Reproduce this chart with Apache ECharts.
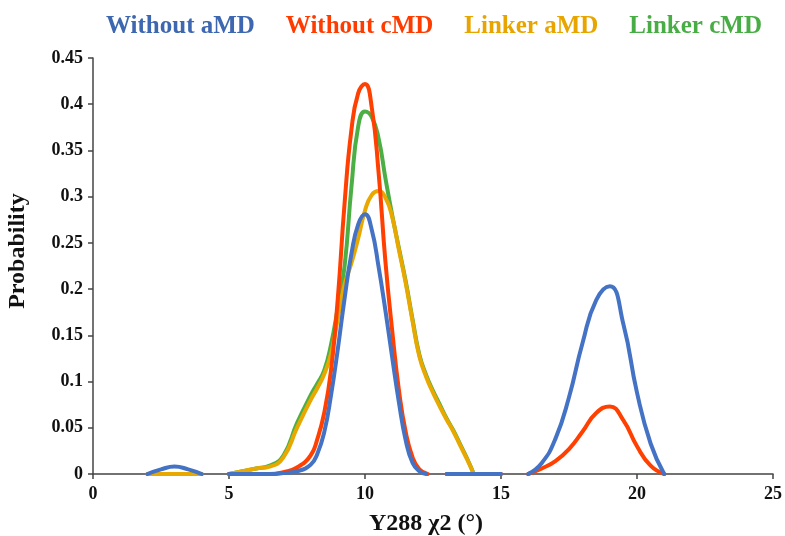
<!DOCTYPE html>
<html>
<head>
<meta charset="utf-8">
<script src="https://cdn.jsdelivr.net/npm/echarts@6/dist/echarts.min.js"></script>
<style>
  html, body { margin: 0; padding: 0; background: #ffffff; }
  #chart { width: 785px; height: 536px; }
</style>
</head>
<body>
<div id="chart"></div>
<script>
// Probability distributions of the Y288 chi2 dihedral ([angle, probability]); null breaks a line.
const withoutAMD = [
  [2, 0], [2.5, 0.005], [3, 0.008], [3.5, 0.005], [4, 0], [4.5, null],
  [5, 0], [5.5, 0], [6, 0], [6.5, 0], [7, 0.001], [7.5, 0.003], [8, 0.01], [8.25, 0.022],
  [8.5, 0.045], [8.75, 0.085], [9, 0.135], [9.25, 0.19], [9.5, 0.238], [9.75, 0.27],
  [10, 0.281], [10.25, 0.264], [10.5, 0.224], [10.75, 0.177], [11, 0.126], [11.25, 0.077],
  [11.5, 0.036], [11.75, 0.012], [12, 0.003], [12.25, 0], [12.6, null],
  [13, 0], [14, 0], [15, 0], [15.5, null],
  [16, 0], [16.5, 0.012], [17, 0.038], [17.5, 0.083], [18, 0.142], [18.5, 0.188],
  [19, 0.203], [19.5, 0.162], [20, 0.088], [20.5, 0.033], [21, 0]
];
const withoutCMD = [
  [5, 0], [5.5, 0], [6, 0], [6.5, 0], [7, 0.002], [7.5, 0.007], [8, 0.02], [8.25, 0.038],
  [8.5, 0.066], [8.75, 0.112], [9, 0.19], [9.25, 0.293], [9.5, 0.372], [9.75, 0.412],
  [10, 0.422], [10.25, 0.396], [10.5, 0.326], [10.75, 0.23], [11, 0.155], [11.25, 0.09],
  [11.5, 0.045], [11.75, 0.018], [12, 0.005], [12.3, 0], [12.6, null],
  [13, 0], [14, 0], [15, 0], [15.5, null],
  [16, 0], [16.5, 0.006], [17, 0.014], [17.5, 0.027], [18, 0.046], [18.5, 0.066],
  [19, 0.073], [19.5, 0.058], [20, 0.03], [20.5, 0.009], [21, 0]
];
const linkerAMD = [
  [2, 0], [2.5, 0], [3, 0], [3.5, 0], [4, 0], [4.5, null],
  [5, 0], [5.5, 0.003], [6, 0.006], [6.5, 0.008], [7, 0.018], [7.5, 0.05], [8, 0.08],
  [8.25, 0.093], [8.5, 0.108], [8.75, 0.13], [9, 0.168], [9.25, 0.205], [9.5, 0.228],
  [9.75, 0.255], [10, 0.285], [10.25, 0.302], [10.5, 0.306], [10.75, 0.299], [11, 0.278],
  [11.25, 0.242], [11.5, 0.206], [11.75, 0.165], [12, 0.127], [12.25, 0.105], [12.5, 0.088],
  [12.75, 0.073], [13, 0.059], [13.25, 0.046], [13.5, 0.031], [13.75, 0.016], [14, 0]
];
const linkerCMD = [
  [2.75, 0], [3.25, 0], [4, null],
  [5, 0], [5.5, 0.003], [6, 0.006], [6.5, 0.009], [7, 0.02], [7.5, 0.055], [8, 0.085],
  [8.25, 0.098], [8.5, 0.112], [8.75, 0.14], [9, 0.18], [9.25, 0.225], [9.5, 0.31],
  [9.75, 0.376], [10, 0.392], [10.25, 0.386], [10.5, 0.363], [10.75, 0.32], [11, 0.28],
  [11.25, 0.244], [11.5, 0.208], [11.75, 0.167], [12, 0.129], [12.25, 0.107], [12.5, 0.09],
  [12.75, 0.075], [13, 0.06], [13.25, 0.047], [13.5, 0.032], [13.75, 0.017], [14, 0]
];

const seriesNames = ['Without aMD', 'Without cMD', 'Linker aMD', 'Linker cMD'];
const seriesColors = ['#4472C4', '#FF4000', '#E8A800', '#4CAF45'];
const legendColors = ['#3D67B0', '#FF3C00', '#E8A500', '#48AD45'];
const seriesData = [withoutAMD, withoutCMD, linkerAMD, linkerCMD];

const xTicks = { min: 0, max: 25, interval: 5 };
const yTicks = { min: 0, max: 0.45, interval: 0.05 };

const serif = "'Liberation Serif', 'Times New Roman', 'DejaVu Serif', serif";
const axisColor = '#444444';

// draw green first and blue last so blue sits on top along the baseline
const drawOrder = [3, 2, 1, 0];

const chart = echarts.init(document.getElementById('chart'), null, { renderer: 'canvas' });
chart.setOption({
  animation: false,
  backgroundColor: '#ffffff',
  legend: {
    left: 95,
    top: 9,
    itemWidth: 0,
    itemHeight: 0,
    itemGap: 25,
    selectedMode: false,
    textStyle: { fontFamily: serif, fontWeight: 'bold', fontSize: 25 },
    data: seriesNames.map((n, i) => ({ name: n, textStyle: { color: legendColors[i] } }))
  },
  grid: { left: 93, right: 12, top: 58, bottom: 62, outerBoundsMode: 'none', containLabel: false },
  xAxis: {
    type: 'value',
    min: xTicks.min, max: xTicks.max, interval: xTicks.interval,
    name: 'Y288 χ2 (°)',
    nameLocation: 'middle',
    nameGap: 38,
    nameTextStyle: { fontFamily: serif, fontWeight: 'bold', fontSize: 24, color: '#111111', padding: [0, 14, 0, 0] },
    axisLine: { lineStyle: { color: axisColor, width: 1.5 } },
    axisTick: { show: true, length: 5, lineStyle: { color: axisColor, width: 1.5 } },
    axisLabel: { fontFamily: serif, fontWeight: 'bold', fontSize: 18, color: '#111111', margin: 11 },
    splitLine: { show: false }
  },
  yAxis: {
    type: 'value',
    min: yTicks.min, max: yTicks.max, interval: yTicks.interval,
    name: 'Probability',
    nameLocation: 'middle',
    nameGap: 63,
    nameTextStyle: { fontFamily: serif, fontWeight: 'bold', fontSize: 24, color: '#111111', padding: [0, 0, 0, 30] },
    axisLine: { show: true, lineStyle: { color: axisColor, width: 1.5 } },
    axisTick: { show: true, length: 5, lineStyle: { color: axisColor, width: 1.5 } },
    axisLabel: {
      fontFamily: serif, fontWeight: 'bold', fontSize: 18, color: '#111111', margin: 10,
      formatter: v => String(parseFloat(v.toFixed(2)))
    },
    splitLine: { show: false }
  },
  series: drawOrder.map(i => ({
    name: seriesNames[i],
    type: 'line',
    data: seriesData[i],
    smooth: 0.5,
    showSymbol: false,
    connectNulls: false,
    color: seriesColors[i],
    lineStyle: { width: 4, color: seriesColors[i], cap: 'round', join: 'round' }
  }))
});
</script>
</body>
</html>
